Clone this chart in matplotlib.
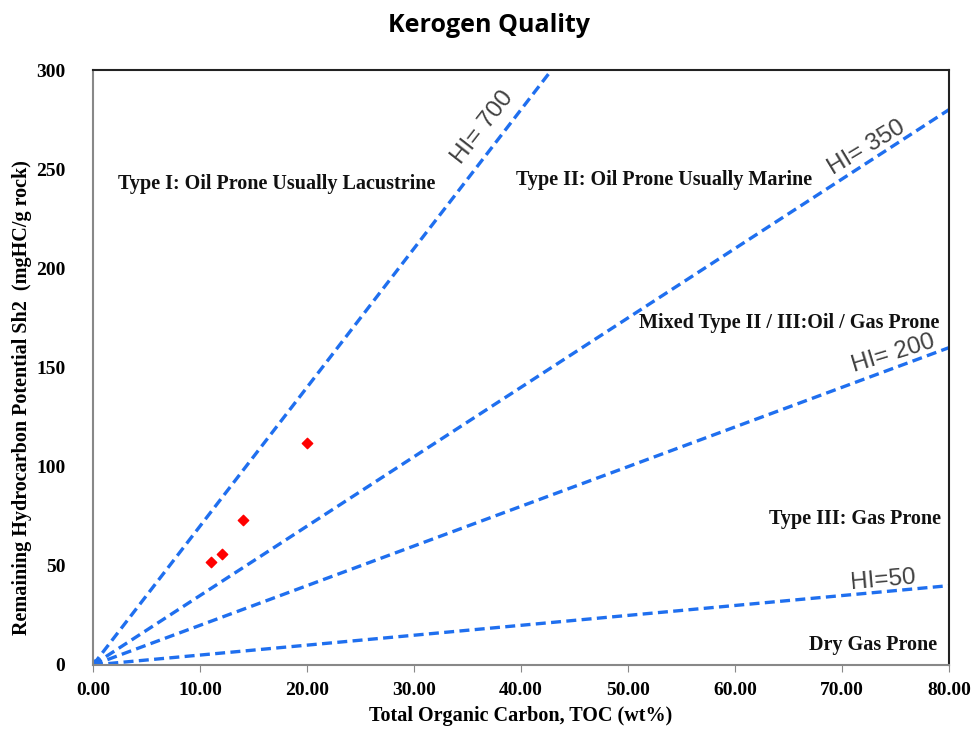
import numpy as np
import matplotlib.pyplot as plt

# => Sample data (TOC, S2)
toc = [11.0, 12.1, 14.0, 20.0]
s2 = [52, 56, 73, 112]

# => Hydrogen index reference lines
hi_values = [700, 350, 200, 50]
hi_labels = ['HI= 700', 'HI= 350', 'HI= 200', 'HI=50']

regions = ['Type I: Oil Prone Usually Lacustrine',
           'Type II: Oil Prone Usually Marine',
           'Mixed Type II / III:Oil / Gas Prone',
           'Type III: Gas Prone',
           'Dry Gas Prone']

x_ticks = [0, 10, 20, 30, 40, 50, 60, 70, 80]
y_ticks = [0, 50, 100, 150, 200, 250, 300]


def main():
    fig = plt.figure(figsize=(9.77, 7.33), dpi=100)
    ax = fig.add_axes([0.0952, 0.0928, 0.8761, 0.8117])

    blue = '#1f6fef'
    x = np.array([0, 80.0])
    for hi in hi_values:
        ax.plot(x, x * hi / 100.0, color=blue, lw=2.4, ls=(0, (3, 1.6)), zorder=2)
    ax.plot([0.2], [1], 'o', color=blue, ms=5, zorder=2)

    ax.scatter(toc, s2, marker='D', color='red', s=28, zorder=3)

    serif = dict(family='Liberation Serif', weight='bold', fontsize=14.5, color='#111111')
    ax.text(17.2, 242.5, regions[0], ha='center', va='center', **serif)
    ax.text(53.4, 244.5, regions[1], ha='center', va='center', **serif)
    ax.text(65.1, 172.4, regions[2], ha='center', va='center', **serif)
    ax.text(71.2, 73.6, regions[3], ha='center', va='center', **serif)
    ax.text(72.9, 10, regions[4], ha='center', va='center', **serif)

    sans = dict(family='Liberation Sans', fontsize=17.5, color='#404040', ha='center', va='center')
    ax.text(36.4, 271, hi_labels[0], rotation=52, **sans)
    ax.text(72.3, 261, hi_labels[1], rotation=31, **sans)
    ax.text(74.8, 157, hi_labels[2], rotation=17, **sans)
    ax.text(73.8, 43, hi_labels[3], rotation=5, **sans)

    ax.set_xlim(0, 80)
    ax.set_ylim(0, 300)
    ax.set_xticks(x_ticks)
    ax.set_xticklabels(['%.2f' % v for v in x_ticks])
    ax.set_yticks(y_ticks)
    for lab in ax.get_xticklabels() + ax.get_yticklabels():
        lab.set_fontfamily('Liberation Serif')
        lab.set_fontweight('bold')
        lab.set_fontsize(14)
    ax.tick_params(axis='x', length=5, color='#888888', pad=7)
    ax.tick_params(axis='y', length=0, pad=20)

    ax.spines['left'].set_color('#888888')
    ax.spines['bottom'].set_color('#888888')
    ax.spines['top'].set_color('#222222')
    ax.spines['right'].set_color('#222222')
    for s in ax.spines.values():
        s.set_linewidth(1.5)

    ax.set_xlabel('Total Organic Carbon, TOC (wt%)', family='Liberation Serif',
                  weight='bold', fontsize=14.5, labelpad=5)
    ax.set_ylabel('Remaining Hydrocarbon Potential Sh2  (mgHC/g rock)',
                  family='Liberation Serif', weight='bold', fontsize=14.5)
    ax.yaxis.set_label_coords(-0.071, 0.45)
    fig.text(0.5, 0.965, 'Kerogen Quality', ha='center', va='center',
             family='Open Sans', weight='bold', fontsize=18)

    fig.savefig('out.png', dpi=100)


main()
